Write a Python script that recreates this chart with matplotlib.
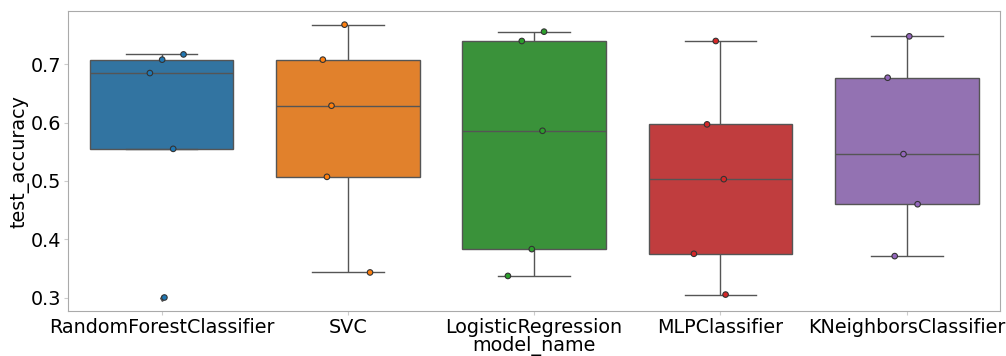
import numpy as np
import pandas as pd
import matplotlib
matplotlib.use("Agg")
import matplotlib.pyplot as plt
import seaborn as sns

models = ["RandomForestClassifier", "SVC", "LogisticRegression", "MLPClassifier", "KNeighborsClassifier"]
rf_acc = [0.300, 0.555, 0.685, 0.708, 0.717]
svc_acc = [0.343, 0.507, 0.629, 0.708, 0.768]
lr_acc = [0.337, 0.383, 0.586, 0.740, 0.756]
mlp_acc = [0.305, 0.375, 0.503, 0.597, 0.740]
knn_acc = [0.371, 0.460, 0.546, 0.677, 0.748]

scores = [rf_acc, svc_acc, lr_acc, mlp_acc, knn_acc]
df = pd.DataFrame({
    "model_name": np.repeat(models, [len(s) for s in scores]),
    "test_accuracy": np.concatenate(scores),
})

np.random.seed(3)
fig, ax = plt.subplots(figsize=(10.06, 3.56), dpi=100)
fig.subplots_adjust(left=0.068, right=0.994, top=0.969, bottom=0.126)

sns.boxplot(data=df, x="model_name", y="test_accuracy", hue="model_name",
            palette="tab10", width=0.77, linewidth=1, linecolor="#555555", ax=ax,
            flierprops={"marker": "d", "markersize": 3})
sns.stripplot(data=df, x="model_name", y="test_accuracy", hue="model_name",
              palette="tab10", size=4, linewidth=0.8, edgecolor="#333333",
              jitter=0.15, ax=ax)

for side in ax.spines.values():
    side.set_color("#aaaaaa")
ax.tick_params(labelsize=13.8, color="#cccccc", length=3, pad=2)
ax.set_xlabel("model_name", fontsize=13.8, labelpad=-1)
ax.set_ylabel("test_accuracy", fontsize=13.8, labelpad=1)
ax.set_yticks([0.3, 0.4, 0.5, 0.6, 0.7])
if ax.get_legend():
    ax.get_legend().remove()

fig.savefig("out.png")
